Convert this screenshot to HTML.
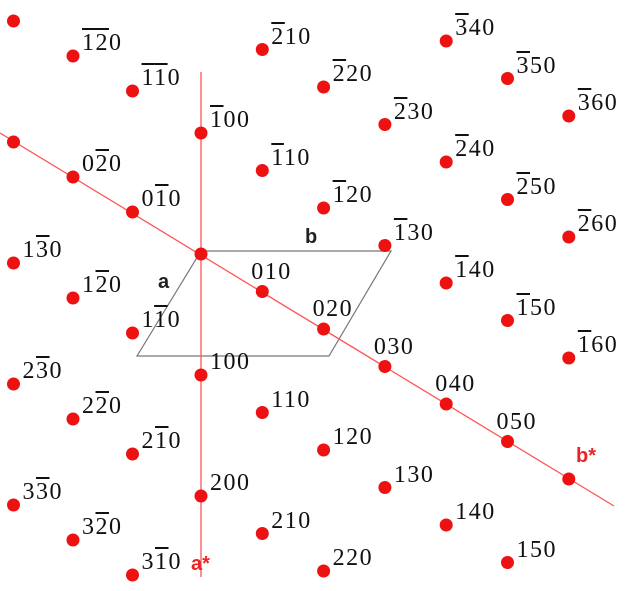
<!DOCTYPE html>
<html><head><meta charset="utf-8"><style>
body{margin:0;background:#fff;}
#wrap{position:relative;width:630px;height:591px;overflow:hidden;font-family:"Liberation Serif",serif;}
svg{position:absolute;left:0;top:0;}
.lbl{position:absolute;font-size:24px;letter-spacing:1.5px;color:#111;line-height:1;white-space:nowrap;}
.ob{text-decoration:overline;text-decoration-thickness:1.5px;}
.ax{position:absolute;font-family:"Liberation Sans",sans-serif;font-weight:bold;font-size:20px;line-height:1;}
</style></head><body>
<div id="wrap">
<svg id="svg" width="630" height="591"></svg>
<div class="ax" style="left:158px;top:272px;color:#222">a</div>
<div class="ax" style="left:305px;top:227px;color:#222">b</div>
<div class="ax" style="left:191px;top:554px;color:#e22">a*</div>
<div class="ax" style="left:576px;top:446px;color:#e22">b*</div>
</div>
<script>
const hIdx = [-1,-1,-1,-1,-2,-2,-2,-2,-2,-2,-3,-3,-3,-1,-1,-1,-1,-1,-1,0,0,0,0,0,0,0,0,0,0,1,1,1,1,1,1,1,1,1,2,2,2,2,2,2,3,3,3];
const kIdx = [-3,-2,-1,0,1,2,3,4,5,6,4,5,6,1,2,3,4,5,6,-3,-2,-1,0,1,2,3,4,5,6,-3,-2,-1,0,1,2,3,4,5,-3,-2,-1,0,1,2,-3,-2,-1];
const labels = ["","-1-20","-1-10","-100","-210","-220","-230","-240","-250","-260","-340","-350","-360","-110","-120","-130","-140","-150","-160","","0-20","0-10","","010","020","030","040","050","","1-30","1-20","1-10","100","110","120","130","140","150","2-30","2-20","2-10","200","210","220","3-30","3-20","3-10"];
const O=[201,254], A=[0,121], B=[61.3,37.5], Bn=[59.5,35], On=[192,247];
function px(h,k){
  if(k<0) return [On[0]+h*A[0]+k*Bn[0], On[1]+h*A[1]+k*Bn[1]];
  return [O[0]+h*A[0]+k*B[0], O[1]+h*A[1]+k*B[1]];
}
const NS="http://www.w3.org/2000/svg", svg=document.getElementById('svg'), wrap=document.getElementById('wrap');
function mk(t,a){const e=document.createElementNS(NS,t);for(const k in a)e.setAttribute(k,a[k]);svg.appendChild(e);return e;}
let cell=mk('polygon',{points:'201,251 391,251 329,356 137,356',fill:'none',stroke:'#777','stroke-width':1.2});


let la=mk('line',{x1:201,y1:72,x2:201,y2:577,stroke:'#f55','stroke-width':1.3});


let lb=mk('line',{x1:0,y1:133,x2:614,y2:506,stroke:'#f55','stroke-width':1.3});


for(let i=0;i<hIdx.length;i++){
  const [x,y]=px(hIdx[i],kIdx[i]);
  const d=mk('circle',{cx:x,cy:y,r:6.5,fill:'#ee1111'});
  
  
  const s=labels[i]; if(!s)continue;
  const el=document.createElement('div');
  el.className='lbl';
  
  
  let html='';for(let j=0;j<s.length;j++){if(s[j]==='-'){html+='<span class="ob">'+s[j+1]+'</span>';j++;}else html+=s[j];}
  el.innerHTML=html;
  let dx=9,dy=-25;
  if(hIdx[i]===0&&kIdx[i]>0){dx=-11;dy=-32;}
  el.style.left=(x+dx)+'px';el.style.top=(y+dy)+'px';
  wrap.appendChild(el);
}
</script>
</body></html>
